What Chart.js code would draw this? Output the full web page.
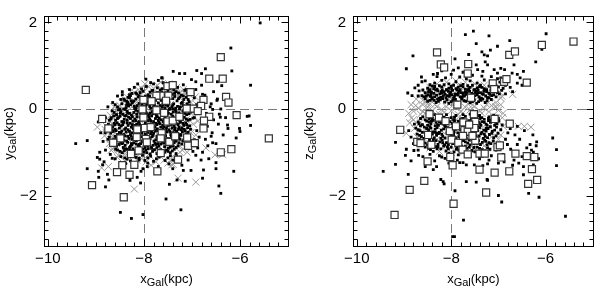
<!DOCTYPE html>
<html><head><meta charset="utf-8">
<script src="https://cdn.jsdelivr.net/npm/chart.js@4.4.0/dist/chart.umd.min.js"></script>
<style>
html,body{margin:0;padding:0;background:#fff;width:600px;height:288px;overflow:hidden}
canvas{position:absolute;top:0}
#c1{left:0}
#c2{left:300px}
</style></head><body>
<canvas id="c1" width="300" height="288"></canvas>
<canvas id="c2" width="300" height="288"></canvas>
<script>
const xTicks = [-10, -8, -6];
const yTicks = [-2, 0, 2];
const xRange = [-10.08, -4.98];
const yRange = [-3.19, 2.15];
const refX = -8, refY = 0;

// LEFT PANEL (x vs y)
const leftSquares = [[-9.21,0.44],[-6.40,1.20],[-6.64,0.70],[-6.36,0.70],[-6.29,0.28],[-6.24,0.15],[-6.07,-0.14],[-5.40,-0.68],[-8.87,-0.23],[-8.74,-0.45],[-7.51,0.53],[-7.40,0.55],[-7.03,0.39],[-6.76,0.21],[-6.81,0.07],[-6.64,-0.18],[-6.75,-0.27],[-6.76,-0.45],[-6.98,0.01],[-7.11,0.01],[-6.88,-0.05],[-7.65,0.31],[-7.74,0.31],[-7.84,0.18],[-7.49,0.31],[-7.54,0.19],[-8.01,0.21],[-8.03,-0.01],[-7.74,-0.03],[-7.58,-0.09],[-8.01,-0.20],[-7.51,-0.29],[-7.40,-0.27],[-7.26,-0.18],[-8.14,-0.47],[-7.98,-0.44],[-7.86,-0.42],[-7.63,-0.56],[-7.65,-0.68],[-7.46,-0.74],[-7.96,-0.69],[-7.94,-0.77],[-8.15,-0.65],[-8.49,-0.68],[-8.64,-0.78],[-7.10,-0.66],[-7.08,-0.85],[-6.94,-0.79],[-8.27,-1.04],[-8.11,-0.96],[-7.65,-1.02],[-7.29,-1.17],[-8.45,-1.30],[-8.20,-1.29],[-8.56,-1.46],[-8.30,-1.52],[-7.72,-1.44],[-6.40,-1.00],[-6.18,-0.93],[-9.08,-1.76],[-8.42,-2.04],[-7.47,-0.76],[-7.35,-0.63]];

const leftCrosses = [[-8.97,-0.42],[-8.81,-0.47],[-8.88,-1.36],[-8.74,-1.33],[-8.20,-1.85],[-6.92,-1.69],[-6.52,-1.06],[-6.36,-1.05],[-6.71,-0.90],[-7.39,-1.28],[-7.29,-1.60],[-8.64,-0.67],[-8.65,-0.93],[-8.53,-1.07],[-7.42,-1.29],[-6.93,0.28],[-7.16,0.37],[-8.31,0.18],[-7.33,0.43],
[-8.70,-0.30],[-8.62,-0.15],[-8.55,0.00],[-8.45,0.15],[-8.35,0.28],[-8.20,0.38],[-8.05,0.48],[-7.90,0.52],[-7.72,0.55],[-7.55,0.50],[-7.40,0.45],[-7.25,0.38],[-7.12,0.28],[-7.02,0.15],[-6.98,0.00],[-6.95,-0.18],[-6.97,-0.35],[-7.02,-0.55],[-7.08,-0.72],[-7.15,-0.88],[-7.25,-1.00],[-7.40,-1.10],[-7.58,-1.18],[-7.75,-1.22],[-7.95,-1.22],[-8.15,-1.18],[-8.32,-1.10],[-8.48,-0.98],[-8.60,-0.85],[-8.70,-0.70],[-8.76,-0.55],
[-8.50,-0.40],[-8.38,-0.20],[-8.25,0.05],[-8.10,0.25],[-7.85,0.35],[-7.60,0.28],[-7.45,0.10],[-7.30,-0.10],[-7.22,-0.40],[-7.30,-0.65],[-7.50,-0.85],[-7.80,-0.95],[-8.05,-0.90],[-8.28,-0.75],[-8.45,-0.60],[-8.15,-0.45],[-7.95,-0.20],[-7.70,-0.05],[-7.55,-0.35],[-7.70,-0.60],[-7.98,-0.65],[-8.20,-0.15],[-7.40,-0.50],[-7.65,0.10],[-8.00,0.10],[-8.35,-0.95],
[-8.82,-0.62],[-8.66,-0.45],[-8.58,-0.25],[-8.50,0.08],[-8.40,0.22],[-8.28,0.40],[-8.12,0.45],[-7.98,0.58],[-7.65,0.62],[-7.48,0.58],[-7.32,0.50],[-7.18,0.45],[-7.05,0.33],[-6.90,0.10],[-6.88,-0.28],[-6.92,-0.60],[-7.00,-0.80],[-7.10,-1.00],[-7.32,-1.15],[-7.50,-1.25],[-7.85,-1.30],[-8.05,-1.15],[-8.40,-1.20],[-8.55,-1.12],[-8.68,-0.95],[-8.72,-0.80],
[-8.60,-0.55],[-8.40,-0.10],[-8.30,-0.50],[-8.10,-0.70],[-8.00,-0.35],[-7.88,-0.05],[-7.75,0.20],[-7.45,-0.20],[-7.35,-0.75],[-7.60,-0.95],[-7.90,-1.05],[-8.20,-1.00],[-8.45,-0.80],[-8.58,-0.05],[-8.35,0.10],[-8.15,0.15],[-7.50,0.35],[-7.20,0.20],[-7.12,-0.25],[-7.15,-0.50],[-7.85,-0.50],[-8.20,-0.30],[-7.60,-0.70],[-7.25,-0.85],[-8.65,-0.35],[-8.52,-0.70],[-8.78,-0.40],[-8.70,-0.15],[-8.62,0.05],[-8.00,0.40],[-7.80,0.48],[-7.30,0.30],[-7.00,-0.05],[-7.05,-0.40],[-7.20,-0.95],[-8.40,-1.05]];

const leftDotsOuter = [[-5.58,1.99],[-6.19,1.41],[-6.17,0.88],[-5.78,0.55],[-6.90,0.89],[-6.80,0.82],[-6.72,0.93],[-7.39,0.87],[-7.26,0.82],[-7.15,0.82],[-7.96,0.69],[-8.13,0.58],[-7.62,0.72],[-6.40,0.67],[-6.47,0.63],[-6.38,0.54],[-7.01,0.68],[-6.92,0.63],[-5.81,-0.16],[-5.78,-0.38],[-6.01,-0.45],[-5.85,-0.17],[-6.26,-0.37],[-9.42,-0.80],[-9.18,-0.73],[-8.36,0.18],[-8.17,0.37],[-8.42,0.23],[-8.33,0.27],[-7.82,0.43],[-7.72,0.49],[-7.63,0.72],[-7.60,0.61],[-7.86,0.61],[-8.69,-0.23],[-8.57,-0.14],[-6.78,0.34],[-6.73,0.32],[-6.47,0.23],[-6.57,-0.01],[-6.43,-0.12],[-6.41,-0.19],[-9.18,-1.38],[-8.97,-1.12],[-8.92,-1.16],[-8.83,-1.22],[-8.86,-1.29],[-8.95,-1.44],[-8.94,-1.58],[-8.76,-1.51],[-8.73,-1.64],[-8.80,-1.80],[-8.49,-2.39],[-8.26,-2.53],[-8.02,-2.44],[-8.07,-1.71],[-7.54,-2.08],[-7.23,-2.33],[-6.44,-1.78],[-6.40,-1.95],[-6.50,-1.24],[-6.50,-1.38],[-6.13,-1.44],[-6.78,-1.60],[-6.76,-1.41],[-6.81,-1.18],[-7.02,-1.42],[-7.18,-1.42],[-7.40,-1.38],[-7.14,-1.67],[-7.31,-1.64],[-7.47,-1.74],[-6.92,-1.07],[-7.08,-1.18],[-7.21,-1.30],[-6.65,-1.15],[-6.67,-0.85],[-6.57,-0.78],[-6.88,-0.90],[-6.95,-0.71],[-6.71,-0.50],[-6.60,-0.63],[-6.08,-0.67],[-6.00,-0.52],[-7.93,-1.33],[-8.06,-1.44],[-8.10,-1.18],[-8.14,-1.58],[-8.29,-1.65],[-8.66,-1.14],[-8.59,-0.93],
[-6.90,0.10],[-6.85,-0.05],[-6.95,-0.20],[-6.70,-0.10],[-6.62,0.05],[-6.55,-0.25],[-6.80,-0.35],[-6.68,-0.40],[-6.90,-0.50],[-6.58,-0.55],[-6.45,-0.35],[-6.35,-0.60],[-6.85,-0.65],[-6.72,-0.70],[-6.95,-0.85],[-6.50,-0.80],[-6.30,-0.20],[-6.40,0.00],[-6.25,-0.45],[-6.98,-0.98],[-6.78,-1.00],[-6.60,0.12],[-6.48,0.20],[-6.92,0.45],[-6.80,0.55],[-6.55,0.40],
[-8.95,-0.30],[-8.90,-0.55],[-8.85,-0.75],[-8.80,-0.95],[-8.92,-1.00],[-8.70,-1.05],[-8.60,-1.15],[-8.75,0.05],[-8.65,0.15],[-8.55,0.30],[-8.45,0.40],[-8.30,0.45],[-8.80,-0.20]];

const leftDotsCore = [[-7.95,0.52],[-7.80,0.58],[-7.62,0.47],[-7.45,0.61],[-7.30,0.50],[-7.18,0.56],[-8.05,0.46],[-7.70,0.66],[-7.55,0.55],[-7.12,0.45],[-8.20,0.50],[-7.38,0.44],
[-8.15,0.35],[-8.02,0.41],[-7.91,0.33],[-7.83,0.43],[-7.72,0.38],[-7.60,0.31],[-7.50,0.42],[-7.41,0.34],[-7.33,0.40],[-7.22,0.32],[-7.10,0.37],[-8.28,0.31],[-7.97,0.30],[-7.66,0.44],[-7.45,0.30],[-7.15,0.43],[-6.98,0.35],[-8.08,0.38],[-7.78,0.34],[-7.55,0.37],
[-8.40,0.20],[-8.30,0.26],[-8.21,0.18],[-8.12,0.28],[-8.05,0.16],[-7.96,0.23],[-7.88,0.29],[-7.80,0.17],[-7.73,0.25],[-7.64,0.20],[-7.57,0.27],[-7.48,0.16],[-7.40,0.24],[-7.31,0.19],[-7.25,0.28],[-7.17,0.22],[-7.06,0.17],[-6.95,0.26],[-8.34,0.15],[-7.92,0.16],[-7.69,0.29],[-7.52,0.21],[-7.36,0.29],[-7.12,0.27],[-8.17,0.23],[-7.85,0.22],[-7.60,0.15],[-7.20,0.15],
[-8.55,0.05],[-8.46,0.12],[-8.37,0.03],[-8.28,0.10],[-8.19,0.01],[-8.10,0.13],[-8.02,0.06],[-7.94,0.11],[-7.86,0.02],[-7.78,0.09],[-7.70,0.14],[-7.62,0.04],[-7.54,0.10],[-7.46,0.01],[-7.38,0.12],[-7.30,0.06],[-7.22,0.13],[-7.14,0.03],[-7.05,0.09],[-8.42,0.00],[-8.24,0.14],[-8.06,0.00],[-7.90,0.14],[-7.74,0.00],[-7.58,0.13],[-7.42,0.05],[-7.26,0.00],[-7.10,0.12],[-8.32,0.07],[-7.98,0.03],[-7.66,0.08],[-7.34,0.02],[-8.14,0.08],[-7.82,0.12],[-7.50,0.07],[-7.18,0.08],
[-8.62,-0.08],[-8.53,-0.02],[-8.44,-0.12],[-8.35,-0.05],[-8.26,-0.14],[-8.17,-0.03],[-8.08,-0.10],[-7.99,-0.01],[-7.91,-0.13],[-7.83,-0.06],[-7.75,-0.11],[-7.67,-0.03],[-7.59,-0.14],[-7.51,-0.06],[-7.43,-0.12],[-7.35,-0.02],[-7.27,-0.09],[-7.19,-0.04],[-7.11,-0.13],[-7.02,-0.07],[-8.48,-0.06],[-8.30,-0.10],[-8.12,-0.05],[-7.95,-0.09],[-7.79,-0.02],[-7.63,-0.09],[-7.47,-0.01],[-7.31,-0.13],[-7.15,-0.10],[-8.39,-0.01],[-8.21,-0.08],[-8.03,-0.14],[-7.87,-0.10],[-7.71,-0.06],[-7.55,-0.10],[-7.39,-0.07],[-7.23,-0.12],[-8.57,-0.13],
[-8.68,-0.20],[-8.59,-0.26],[-8.50,-0.17],[-8.41,-0.24],[-8.32,-0.19],[-8.23,-0.28],[-8.14,-0.18],[-8.05,-0.25],[-7.96,-0.16],[-7.88,-0.23],[-7.80,-0.29],[-7.72,-0.18],[-7.64,-0.25],[-7.56,-0.20],[-7.48,-0.27],[-7.40,-0.17],[-7.32,-0.23],[-7.24,-0.29],[-7.16,-0.19],[-7.08,-0.26],[-6.98,-0.21],[-8.46,-0.29],[-8.28,-0.22],[-8.10,-0.29],[-7.92,-0.27],[-7.76,-0.22],[-7.60,-0.29],[-7.44,-0.22],[-7.28,-0.17],[-7.12,-0.23],[-8.37,-0.15],[-8.19,-0.23],[-8.00,-0.20],[-7.84,-0.16],[-7.68,-0.21],[-7.52,-0.15],[-7.36,-0.28],[-7.20,-0.24],[-8.63,-0.16],[-8.55,-0.22],
[-8.74,-0.35],[-8.65,-0.41],[-8.56,-0.32],[-8.47,-0.39],[-8.38,-0.44],[-8.29,-0.33],[-8.20,-0.40],[-8.11,-0.31],[-8.02,-0.38],[-7.93,-0.43],[-7.85,-0.34],[-7.77,-0.41],[-7.69,-0.31],[-7.61,-0.37],[-7.53,-0.43],[-7.45,-0.33],[-7.37,-0.40],[-7.29,-0.36],[-7.21,-0.44],[-7.13,-0.32],[-7.05,-0.39],[-8.60,-0.36],[-8.42,-0.31],[-8.24,-0.36],[-8.06,-0.44],[-7.89,-0.39],[-7.73,-0.36],[-7.57,-0.31],[-7.41,-0.44],[-7.25,-0.31],[-7.09,-0.43],[-8.51,-0.44],[-8.33,-0.38],[-8.15,-0.35],[-7.97,-0.32],[-7.81,-0.44],[-7.65,-0.42],[-7.49,-0.38],[-7.33,-0.33],[-7.17,-0.38],[-8.70,-0.43],
[-8.78,-0.50],[-8.69,-0.56],[-8.60,-0.47],[-8.51,-0.54],[-8.42,-0.59],[-8.33,-0.48],[-8.24,-0.55],[-8.15,-0.46],[-8.06,-0.53],[-7.97,-0.58],[-7.88,-0.49],[-7.80,-0.56],[-7.72,-0.46],[-7.64,-0.52],[-7.56,-0.58],[-7.48,-0.48],[-7.40,-0.55],[-7.32,-0.51],[-7.24,-0.59],[-7.16,-0.47],[-7.08,-0.54],[-8.64,-0.52],[-8.46,-0.51],[-8.28,-0.59],[-8.10,-0.50],[-7.92,-0.54],[-7.76,-0.51],[-7.60,-0.47],[-7.44,-0.59],[-7.28,-0.47],[-7.12,-0.58],[-8.55,-0.59],[-8.37,-0.53],[-8.19,-0.57],[-8.01,-0.47],[-7.84,-0.52],[-7.68,-0.57],[-7.52,-0.53],[-7.36,-0.49],[-7.20,-0.53],
[-8.72,-0.65],[-8.63,-0.71],[-8.54,-0.62],[-8.45,-0.69],[-8.36,-0.74],[-8.27,-0.63],[-8.18,-0.70],[-8.09,-0.61],[-8.00,-0.68],[-7.91,-0.73],[-7.83,-0.64],[-7.75,-0.71],[-7.67,-0.61],[-7.59,-0.67],[-7.51,-0.73],[-7.43,-0.63],[-7.35,-0.70],[-7.27,-0.66],[-7.19,-0.74],[-7.11,-0.62],[-8.58,-0.67],[-8.40,-0.62],[-8.22,-0.66],[-8.04,-0.74],[-7.87,-0.69],[-7.71,-0.66],[-7.55,-0.62],[-7.39,-0.74],[-7.23,-0.61],[-8.49,-0.74],[-8.31,-0.68],[-8.13,-0.65],[-7.95,-0.62],[-7.79,-0.74],[-7.63,-0.72],[-7.47,-0.68],[-7.31,-0.63],
[-8.66,-0.80],[-8.57,-0.86],[-8.48,-0.77],[-8.39,-0.84],[-8.30,-0.89],[-8.21,-0.78],[-8.12,-0.85],[-8.03,-0.76],[-7.94,-0.83],[-7.85,-0.88],[-7.77,-0.79],[-7.69,-0.86],[-7.61,-0.76],[-7.53,-0.82],[-7.45,-0.88],[-7.37,-0.78],[-7.29,-0.85],[-7.21,-0.81],[-8.52,-0.82],[-8.34,-0.77],[-8.16,-0.81],[-7.98,-0.89],[-7.81,-0.84],[-7.65,-0.81],[-7.49,-0.77],[-7.33,-0.89],[-8.43,-0.89],[-8.25,-0.83],[-8.07,-0.80],[-7.89,-0.77],[-7.73,-0.89],[-7.57,-0.87],
[-8.55,-0.95],[-8.45,-1.01],[-8.36,-0.93],[-8.27,-0.99],[-8.18,-1.04],[-8.09,-0.94],[-8.00,-1.00],[-7.91,-0.92],[-7.82,-0.98],[-7.73,-1.03],[-7.65,-0.94],[-7.57,-1.00],[-7.49,-0.91],[-7.41,-0.97],[-7.33,-1.03],[-8.41,-0.96],[-8.23,-0.92],[-8.05,-0.97],[-7.87,-1.04],[-7.69,-0.99],[-7.53,-0.95],[-7.37,-0.93],[-8.32,-1.02],[-7.96,-0.95],[-7.61,-1.04],
[-8.48,-1.10],[-8.35,-1.16],[-8.22,-1.08],[-8.10,-1.14],[-7.98,-1.19],[-7.86,-1.09],[-7.74,-1.15],[-7.62,-1.07],[-7.50,-1.13],[-7.40,-1.18],[-8.28,-1.20],[-8.03,-1.07],[-7.80,-1.21],[-7.56,-1.19],[-7.32,-1.10],
[-8.38,-1.26],[-8.15,-1.31],[-7.92,-1.25],[-7.70,-1.33],[-7.48,-1.27],[-8.02,-1.38],
[-8.45,0.33],[-8.25,0.36],[-7.87,0.39],[-7.63,0.39],[-7.36,0.36],[-7.18,0.30],
[-8.48,0.22],[-8.26,0.19],[-8.00,0.26],[-7.76,0.20],[-7.53,0.25],[-7.28,0.24],[-7.08,0.22],
[-8.60,0.10],[-8.50,-0.00],[-8.33,0.12],[-8.16,0.03],[-7.96,0.07],[-7.80,0.05],[-7.60,0.10],[-7.40,0.09],[-7.24,0.05],[-7.08,0.04],
[-8.66,-0.04],[-8.49,-0.10],[-8.34,-0.09],[-8.15,-0.12],[-7.97,-0.05],[-7.81,-0.11],[-7.65,-0.05],[-7.49,-0.10],[-7.33,-0.06],[-7.17,-0.07],[-7.06,-0.11],
[-8.72,-0.26],[-8.53,-0.20],[-8.35,-0.26],[-8.17,-0.27],[-8.02,-0.23],[-7.86,-0.27],[-7.70,-0.26],[-7.54,-0.24],[-7.38,-0.21],[-7.22,-0.20],[-7.04,-0.24],
[-8.77,-0.40],[-8.62,-0.33],[-8.44,-0.36],[-8.26,-0.42],[-8.09,-0.36],[-7.91,-0.35],[-7.75,-0.33],[-7.59,-0.41],[-7.43,-0.37],[-7.27,-0.42],[-7.11,-0.36],
[-8.81,-0.55],[-8.66,-0.48],[-8.48,-0.56],[-8.30,-0.52],[-8.12,-0.55],[-7.95,-0.50],[-7.78,-0.48],[-7.62,-0.55],[-7.46,-0.52],[-7.30,-0.56],[-7.14,-0.51],[-7.03,-0.47],
[-8.75,-0.70],[-8.60,-0.63],[-8.42,-0.72],[-8.25,-0.70],[-8.07,-0.64],[-7.89,-0.66],[-7.73,-0.63],[-7.57,-0.70],[-7.41,-0.67],[-7.25,-0.70],[-7.15,-0.66],
[-8.62,-0.84],[-8.46,-0.80],[-8.28,-0.86],[-8.10,-0.82],[-7.92,-0.86],[-7.75,-0.82],[-7.59,-0.79],[-7.43,-0.84],[-7.27,-0.78],
[-8.50,-0.98],[-8.30,-0.95],[-8.13,-1.00],[-7.94,-1.01],[-7.78,-0.94],[-7.60,-0.97],[-7.45,-1.01],
[-8.40,-1.13],[-8.16,-1.12],[-7.92,-1.13],[-7.68,-1.11],[-7.45,-1.08],
[-8.36,0.09],[-8.20,0.06],[-8.04,0.10],[-7.88,0.06],[-7.72,0.05],[-7.56,0.03],[-7.40,0.00],
[-8.40,-0.16],[-8.24,-0.18],[-8.07,-0.19],[-7.90,-0.18],[-7.74,-0.15],[-7.58,-0.24],[-7.42,-0.27],[-7.26,-0.25],
[-8.52,-0.36],[-8.35,-0.32],[-8.18,-0.38],[-8.00,-0.41],[-7.83,-0.38],[-7.67,-0.34],[-7.51,-0.34],[-7.35,-0.44],[-7.19,-0.33],
[-8.58,-0.50],[-8.40,-0.47],[-8.22,-0.46],[-8.04,-0.56],[-7.86,-0.57],[-7.70,-0.50],[-7.54,-0.49],[-7.38,-0.57],[-7.22,-0.48],
[-8.52,-0.66],[-8.34,-0.63],[-8.16,-0.73],[-7.98,-0.71],[-7.81,-0.61],[-7.65,-0.65],[-7.49,-0.71],[-7.33,-0.74],[-7.17,-0.71],
[-8.44,-0.78],[-8.26,-0.80],[-8.09,-0.88],[-7.91,-0.81],[-7.71,-0.80],[-7.55,-0.75],[-7.39,-0.86],
[-8.38,-0.92],[-8.20,-0.96],[-8.02,-0.93],[-7.84,-0.91],[-7.67,-1.00],[-7.50,-0.98],
[-8.30,0.33],[-8.10,0.31],[-7.93,0.27],[-7.70,0.32],[-7.47,0.35],[-7.28,0.37]];

// RIGHT PANEL (x vs z)
const rightSquares = [[-8.30,1.31],[-8.22,1.03],[-8.15,0.96],[-7.64,1.04],[-7.65,0.82],[-6.77,1.25],[-6.65,1.33],[-6.08,1.48],[-5.41,1.56],[-7.12,0.59],[-7.09,0.46],[-6.88,0.63],[-6.83,0.69],[-6.40,0.61],[-7.58,0.26],[-7.87,0.10],[-8.46,-0.12],[-8.26,-0.20],[-8.12,-0.28],[-7.74,-0.31],[-7.52,-0.12],[-7.49,-0.30],[-7.08,-0.23],[-6.76,-0.34],[-9.08,-0.48],[-8.72,-0.76],[-8.65,-0.79],[-8.42,-0.83],[-8.49,-0.60],[-8.50,-1.21],[-8.57,-1.66],[-8.88,-1.87],[-9.20,-2.45],[-8.02,-1.11],[-7.97,-1.30],[-7.95,-2.19],[-8.03,-0.51],[-7.99,-0.71],[-7.85,-0.78],[-7.76,-0.94],[-7.72,-0.49],[-7.65,-0.52],[-7.51,-0.44],[-7.49,-0.73],[-7.65,-1.05],[-7.40,-1.03],[-7.29,-1.03],[-7.40,-1.40],[-7.08,-1.47],[-7.26,-1.93],[-7.02,-0.88],[-6.97,-0.84],[-6.94,-1.12],[-6.77,-1.44],[-6.64,-1.03],[-6.40,-1.09],[-6.24,-1.11],[-6.29,-1.39],[-6.37,-1.73],[-6.18,-1.64],[-7.75,-0.62],[-7.55,-0.62],[-7.90,-0.40],[-7.62,-0.36]];

const rightCrosses = [[-8.80,-0.05],[-8.70,0.02],[-8.60,-0.06],[-8.50,0.04],[-8.40,-0.03],[-8.30,0.06],[-8.20,-0.01],[-8.10,0.05],[-8.00,-0.04],[-7.90,0.03],[-7.80,-0.05],[-7.70,0.04],[-7.60,-0.02],[-7.50,0.06],[-7.40,-0.04],[-7.30,0.02],[-7.20,-0.06],[-7.10,0.03],[-7.00,-0.03],[-8.75,0.08],[-8.55,-0.10],[-8.35,0.10],[-8.15,-0.08],[-7.95,0.10],[-7.75,-0.09],[-7.55,0.09],[-7.35,-0.10],[-7.15,0.08],[-8.65,-0.12],[-8.45,0.12],[-8.25,-0.12],[-8.05,0.12],[-7.85,-0.13],[-7.65,0.12],[-7.45,-0.12],[-7.25,0.11],
[-8.60,0.20],[-8.55,0.35],[-8.45,0.50],[-8.30,0.58],[-8.10,0.62],[-7.90,0.65],[-7.70,0.62],[-7.50,0.58],[-7.30,0.55],[-7.10,0.50],[-6.98,0.40],[-6.95,0.25],[-7.05,0.15],[-8.48,0.30],[-8.20,0.45],[-7.80,0.40],[-7.40,0.30],[-7.20,0.40],[-8.00,0.30],
[-8.80,-0.25],[-8.78,-0.45],[-8.72,-0.65],[-8.60,-0.80],[-8.45,-0.90],[-8.25,-0.98],[-8.00,-1.00],[-7.75,-1.00],[-7.50,-0.95],[-7.25,-0.90],[-7.05,-0.80],[-6.95,-0.60],[-6.90,-0.40],[-6.92,-0.20],[-8.55,-0.45],[-8.30,-0.70],[-8.05,-0.40],[-7.80,-0.60],[-7.55,-0.80],[-7.35,-0.45],[-7.15,-0.65],[-8.40,-0.30],[-7.90,-0.85],
[-8.74,0.23],[-8.55,0.18],[-6.93,0.30],[-6.70,0.34],[-8.84,-0.21],[-8.88,-0.32],[-8.95,-0.56],[-6.31,-0.42],[-6.58,-0.40],[-6.45,-0.40],
[-8.35,0.35],[-8.05,0.20],[-7.75,0.25],[-7.50,0.45],[-7.20,0.25],[-7.00,0.50],[-8.50,0.12],[-7.85,0.55],[-8.20,0.25],[-7.60,0.35],
[-8.65,-0.30],[-8.50,-0.60],[-8.20,-0.50],[-8.10,-0.85],[-7.95,-0.60],[-7.70,-0.45],[-7.60,-0.90],[-7.40,-0.65],[-7.20,-0.40],[-7.10,-0.20],[-8.30,-0.20],[-7.90,-0.25],[-7.45,-0.25],[-8.70,-0.50],[-8.40,-0.80],[-7.80,-0.80],[-7.30,-0.85],[-7.00,-0.70],[-8.60,0.10],[-7.05,0.05],[-8.85,0.10],[-8.90,-0.10],[-6.95,0.10],[-6.90,-0.10]];

const rightDotsOuter = [[-7.53,1.80],[-7.70,1.72],[-7.20,1.69],[-7.47,1.51],[-6.76,1.58],[-5.99,1.74],[-6.08,1.38],[-6.21,1.09],[-7.02,1.45],[-7.17,1.36],[-7.35,1.32],[-7.30,1.25],[-7.23,1.23],[-7.63,1.26],[-7.92,1.16],[-8.81,1.23],[-8.95,0.93],[-8.63,0.74],[-8.62,0.63],[-8.38,0.80],[-8.29,0.82],[-8.77,0.49],[-8.92,0.37],[-8.83,0.31],[-7.47,1.02],[-7.44,0.91],[-7.33,0.87],[-7.28,1.09],[-7.23,1.02],[-7.09,0.91],[-7.02,0.83],[-6.95,0.94],[-6.87,0.91],[-6.67,1.02],[-6.71,0.83],[-6.60,0.80],[-6.54,0.72],[-6.47,0.87],
[-9.44,-1.44],[-9.18,-1.28],[-9.18,-0.77],[-8.91,-1.51],[-8.97,-1.07],[-8.95,-0.93],[-8.79,-0.96],[-8.69,-1.07],[-8.55,-1.33],[-8.38,-1.40],[-8.31,-1.33],[-8.22,-1.63],[-8.17,-1.68],[-8.15,-1.73],[-7.92,-1.89],[-7.74,-2.57],[-7.68,-1.68],[-7.47,-1.69],[-7.24,-1.63],[-7.23,-1.65],[-7.00,-2.00],[-6.93,-2.15],[-6.47,-1.52],[-6.36,-1.95],[-6.14,-2.04],[-6.47,-1.33],[-6.26,-1.29],[-5.85,-0.67],[-5.77,-0.94],[-5.77,-1.31],[-5.58,-2.48],[-6.19,-0.76],[-6.27,-0.60],[-6.33,-0.82],[-6.26,-1.00],[-6.60,-0.82],[-6.74,-0.93],[-6.81,-0.82],[-6.88,-1.22],[-6.57,-1.25],[-6.67,-1.18],[-8.20,-1.11],[-8.13,-1.14],[-7.87,-1.18],[-7.82,-1.24],[-7.75,-1.24],[-7.68,-1.29],[-7.51,-1.29],[-7.33,-1.31],[-7.23,-1.27],[-7.20,-1.18],[-7.97,-2.95],[-7.93,-2.95],
[-8.70,0.55],[-8.55,0.65],[-8.30,0.75],[-8.00,0.80],[-7.75,0.85],[-7.55,0.78],[-7.35,0.76],[-7.15,0.75],[-6.95,0.72],[-6.80,0.65],[-6.75,0.50],[-6.70,0.40],[-6.85,0.35],[-8.70,0.30],[-8.68,0.42],[-8.20,0.88],[-7.85,0.95],[-7.95,0.90],[-6.60,0.60],[-6.50,0.55],
[-8.45,-1.05],[-8.25,-1.08],[-8.05,-1.02],[-7.85,-1.06],[-7.60,-1.10],[-7.40,-1.15],[-7.15,-1.08],[-7.05,-0.95],[-6.95,-0.90],[-6.85,-0.70],[-6.80,-0.55],[-6.75,-0.45],[-6.65,-0.60],[-6.55,-0.70],[-6.45,-0.50],[-6.40,-0.90],[-6.50,-1.10],[-8.80,-0.80],[-8.85,-0.65],[-8.90,-0.50],[-8.78,-0.35],[-8.85,-1.20],[-8.60,-1.10],[-8.70,-0.95],[-8.35,-1.20],[-8.05,-1.25],[-6.70,-1.30],[-7.00,-1.25],[-6.90,-1.05],[-6.60,-0.40],[-6.30,-0.95],[-6.20,-0.85],[-6.15,-1.15]];

const rightDotsUpperLobe = [[-8.35,0.60],[-8.20,0.66],[-8.05,0.58],[-7.90,0.63],[-7.75,0.57],[-7.60,0.65],[-7.45,0.60],[-7.30,0.67],[-7.15,0.62],[-7.02,0.70],[-6.92,0.58],[-8.45,0.56],[-7.68,0.70],[-7.38,0.55],[-7.08,0.56],[-8.12,0.72],[-7.82,0.74],
[-8.50,0.48],[-8.40,0.53],[-8.30,0.46],[-8.20,0.51],[-8.10,0.45],[-8.00,0.52],[-7.90,0.47],[-7.80,0.54],[-7.70,0.46],[-7.60,0.50],[-7.50,0.45],[-7.40,0.52],[-7.30,0.47],[-7.20,0.53],[-7.10,0.46],[-7.00,0.51],[-6.90,0.48],[-8.45,0.45],[-8.25,0.54],[-8.05,0.48],[-7.85,0.50],[-7.65,0.54],[-7.45,0.49],[-7.25,0.45],[-7.05,0.54],[-6.85,0.55],
[-8.55,0.38],[-8.46,0.43],[-8.37,0.36],[-8.28,0.42],[-8.19,0.37],[-8.10,0.44],[-8.01,0.39],[-7.92,0.35],[-7.83,0.42],[-7.74,0.37],[-7.65,0.44],[-7.56,0.36],[-7.47,0.41],[-7.38,0.38],[-7.29,0.44],[-7.20,0.36],[-7.11,0.41],[-7.02,0.38],[-6.93,0.43],[-8.42,0.39],[-8.24,0.35],[-8.06,0.41],[-7.88,0.44],[-7.70,0.40],[-7.52,0.44],[-7.34,0.35],[-7.16,0.44],[-6.98,0.35],[-8.60,0.44],
[-8.58,0.28],[-8.49,0.33],[-8.40,0.26],[-8.31,0.32],[-8.22,0.27],[-8.13,0.34],[-8.04,0.29],[-7.95,0.25],[-7.86,0.32],[-7.77,0.27],[-7.68,0.34],[-7.59,0.26],[-7.50,0.31],[-7.41,0.28],[-7.32,0.34],[-7.23,0.26],[-7.14,0.31],[-7.05,0.28],[-8.44,0.29],[-8.26,0.25],[-8.08,0.31],[-7.90,0.34],[-7.72,0.30],[-7.54,0.34],[-7.36,0.25],[-7.18,0.34],[-8.62,0.31],
[-8.50,0.18],[-8.41,0.23],[-8.32,0.15],[-8.23,0.21],[-8.14,0.16],[-8.05,0.13],[-7.96,0.20],[-7.87,0.16],[-7.78,0.23],[-7.69,0.18],[-7.60,0.14],[-7.51,0.21],[-7.42,0.17],[-7.33,0.23],[-7.24,0.19],[-7.15,0.22],[-8.36,0.20],[-8.18,0.24],[-8.00,0.17],[-7.82,0.13],[-7.64,0.22],[-7.46,0.13],[-7.28,0.15],[-8.55,0.24],
[-8.48,0.40],[-8.33,0.44],[-8.15,0.40],[-7.97,0.43],[-7.79,0.38],[-7.61,0.41],[-7.43,0.44],[-7.25,0.40],[-7.07,0.44],
[-8.53,0.30],[-8.35,0.28],[-8.17,0.30],[-7.99,0.33],[-7.81,0.28],[-7.63,0.30],[-7.45,0.33],[-7.27,0.30],[-7.10,0.33],
[-8.45,0.20],[-8.27,0.18],[-8.09,0.21],[-7.91,0.22],[-7.73,0.19],[-7.55,0.17],[-7.37,0.20],[-7.20,0.26],
[-8.35,0.52],[-8.15,0.56],[-7.95,0.55],[-7.75,0.51],[-7.55,0.55],[-7.35,0.50],[-7.15,0.56],[-6.97,0.62],
[-8.43,0.34],[-8.21,0.40],[-8.03,0.35],[-7.85,0.37],[-7.67,0.38],[-7.49,0.38],[-7.31,0.41],[-8.29,0.23],[-8.11,0.26],[-7.93,0.29],[-7.75,0.33],[-7.57,0.30],[-7.39,0.24],[-8.37,0.47],[-8.19,0.44],[-7.99,0.46],[-7.81,0.45],[-7.63,0.47],[-7.43,0.38]];

const rightDotsLowerLobe = [[-8.60,-0.18],[-8.50,-0.14],[-8.40,-0.22],[-8.30,-0.16],[-8.20,-0.24],[-8.10,-0.13],[-8.00,-0.20],[-7.90,-0.15],[-7.80,-0.23],[-7.70,-0.17],[-7.60,-0.12],[-7.50,-0.21],[-7.40,-0.15],[-7.30,-0.24],[-7.20,-0.18],[-7.10,-0.14],[-7.00,-0.22],[-8.55,-0.25],[-8.35,-0.13],[-8.15,-0.19],[-7.95,-0.25],[-7.75,-0.13],[-7.55,-0.18],[-7.35,-0.20],[-7.15,-0.25],[-8.45,-0.19],
[-8.70,-0.30],[-8.61,-0.36],[-8.52,-0.28],[-8.43,-0.34],[-8.34,-0.39],[-8.25,-0.29],[-8.16,-0.35],[-8.07,-0.27],[-7.98,-0.33],[-7.89,-0.38],[-7.80,-0.30],[-7.71,-0.36],[-7.62,-0.27],[-7.53,-0.33],[-7.44,-0.39],[-7.35,-0.29],[-7.26,-0.35],[-7.17,-0.31],[-7.08,-0.38],[-6.99,-0.28],[-8.65,-0.39],[-8.47,-0.30],[-8.29,-0.36],[-8.11,-0.31],[-7.93,-0.27],[-7.75,-0.39],[-7.57,-0.30],[-7.39,-0.35],[-7.21,-0.27],[-7.03,-0.34],[-6.92,-0.37],[-8.38,-0.26],[-7.84,-0.35],
[-8.75,-0.44],[-8.66,-0.50],[-8.57,-0.42],[-8.48,-0.48],[-8.39,-0.53],[-8.30,-0.43],[-8.21,-0.49],[-8.12,-0.41],[-8.03,-0.47],[-7.94,-0.52],[-7.85,-0.44],[-7.76,-0.50],[-7.67,-0.41],[-7.58,-0.47],[-7.49,-0.53],[-7.40,-0.43],[-7.31,-0.49],[-7.22,-0.45],[-7.13,-0.52],[-7.04,-0.42],[-6.95,-0.48],[-8.61,-0.54],[-8.43,-0.44],[-8.25,-0.54],[-8.07,-0.51],[-7.89,-0.41],[-7.71,-0.54],[-7.53,-0.44],[-7.35,-0.54],[-7.17,-0.41],[-8.34,-0.47],[-7.98,-0.45],[-7.62,-0.51],[-7.26,-0.51],
[-8.72,-0.58],[-8.63,-0.64],[-8.54,-0.56],[-8.45,-0.62],[-8.36,-0.67],[-8.27,-0.57],[-8.18,-0.63],[-8.09,-0.55],[-8.00,-0.61],[-7.91,-0.66],[-7.82,-0.58],[-7.73,-0.64],[-7.64,-0.55],[-7.55,-0.61],[-7.46,-0.67],[-7.37,-0.57],[-7.28,-0.63],[-7.19,-0.59],[-7.10,-0.66],[-7.01,-0.56],[-8.58,-0.68],[-8.40,-0.58],[-8.22,-0.68],[-8.04,-0.65],[-7.86,-0.55],[-7.68,-0.68],[-7.50,-0.58],[-7.32,-0.68],[-7.14,-0.56],[-8.31,-0.61],[-7.95,-0.59],[-7.59,-0.65],
[-8.65,-0.73],[-8.55,-0.79],[-8.46,-0.71],[-8.37,-0.77],[-8.28,-0.82],[-8.19,-0.72],[-8.10,-0.78],[-8.01,-0.70],[-7.92,-0.76],[-7.83,-0.81],[-7.74,-0.73],[-7.65,-0.79],[-7.56,-0.70],[-7.47,-0.76],[-7.38,-0.82],[-7.29,-0.72],[-7.20,-0.78],[-7.11,-0.74],[-8.50,-0.83],[-8.32,-0.73],[-8.14,-0.83],[-7.96,-0.80],[-7.78,-0.70],[-7.60,-0.83],[-7.42,-0.73],[-7.24,-0.83],
[-8.55,-0.88],[-8.44,-0.94],[-8.33,-0.87],[-8.22,-0.92],[-8.11,-0.97],[-8.00,-0.88],[-7.89,-0.93],[-7.78,-0.86],[-7.67,-0.91],[-7.56,-0.96],[-7.45,-0.88],[-7.34,-0.94],[-7.23,-0.90],[-8.38,-0.98],[-8.16,-0.86],[-7.94,-0.99],[-7.72,-0.97],[-7.50,-0.99],[-7.28,-0.97],
[-8.65,-0.22],[-8.47,-0.23],[-8.29,-0.21],[-8.11,-0.22],[-7.93,-0.19],[-7.75,-0.22],[-7.57,-0.24],[-7.39,-0.22],[-7.21,-0.22],[-7.05,-0.17],
[-8.68,-0.34],[-8.50,-0.38],[-8.32,-0.31],[-8.14,-0.38],[-7.96,-0.37],[-7.78,-0.33],[-7.60,-0.37],[-7.42,-0.31],[-7.24,-0.38],[-7.06,-0.31],
[-8.70,-0.48],[-8.52,-0.45],[-8.34,-0.54],[-8.16,-0.46],[-7.98,-0.53],[-7.80,-0.48],[-7.62,-0.45],[-7.44,-0.50],[-7.26,-0.45],[-7.08,-0.49],
[-8.67,-0.61],[-8.49,-0.66],[-8.31,-0.56],[-8.13,-0.67],[-7.95,-0.65],[-7.77,-0.60],[-7.59,-0.58],[-7.41,-0.62],[-7.23,-0.66],[-7.05,-0.62],
[-8.60,-0.75],[-8.42,-0.80],[-8.24,-0.76],[-8.06,-0.82],[-7.88,-0.72],[-7.70,-0.76],[-7.52,-0.80],[-7.34,-0.77],[-7.16,-0.80],
[-8.48,-0.91],[-8.28,-0.88],[-8.06,-0.92],[-7.84,-0.95],[-7.62,-0.88],[-7.40,-0.91],[-7.18,-0.93],
[-8.42,-0.28],[-8.22,-0.33],[-8.03,-0.29],[-7.85,-0.28],[-7.66,-0.31],[-7.48,-0.27],[-7.30,-0.31],
[-8.45,-0.41],[-8.27,-0.38],[-8.08,-0.43],[-7.91,-0.47],[-7.73,-0.43],[-7.55,-0.40],[-7.37,-0.38],
[-8.41,-0.57],[-8.20,-0.58],[-8.02,-0.56],[-7.84,-0.64],[-7.66,-0.60],[-7.48,-0.63],[-7.30,-0.58],
[-8.38,-0.71],[-8.18,-0.78],[-7.99,-0.75],[-7.81,-0.75],[-7.62,-0.72],[-7.45,-0.80],[-7.27,-0.75],
[-8.30,-0.92],[-8.08,-0.88],[-7.88,-0.90],[-7.70,-0.86],[-7.52,-0.89]];

const leftDots = leftDotsOuter.concat(leftDotsCore);
const rightDots = rightDotsOuter.concat(rightDotsUpperLobe, rightDotsLowerLobe);

const FONT = '"Liberation Sans", Arial, Helvetica, sans-serif';
const toXY = arr => arr.map(p => ({x: p[0], y: p[1]}));
const fmt = v => (v < 0 ? '\u2212' + Math.abs(v) : String(v));

const framePlugin = {
  id: 'frame',
  beforeDatasetsDraw(chart) {
    const {ctx, chartArea: a, scales: {x, y}} = chart;
    ctx.save();
    ctx.strokeStyle = '#7a7a7a';
    ctx.lineWidth = 1;
    ctx.setLineDash([9, 5]);
    const px = Math.round(x.getPixelForValue(refX)) + 0.5;
    const py = Math.round(y.getPixelForValue(refY)) + 0.5;
    ctx.beginPath();
    ctx.moveTo(a.left, py); ctx.lineTo(a.right, py);
    ctx.moveTo(px, a.bottom); ctx.lineTo(px, a.top);
    ctx.stroke();
    ctx.restore();
  },
  afterDraw(chart, args, opts) {
    const {ctx, chartArea: a, scales: {x, y}} = chart;
    ctx.save();
    ctx.strokeStyle = '#000';
    ctx.lineWidth = 1;
    ctx.setLineDash([]);
    const L = Math.round(a.left) + 0.5, R = Math.round(a.right) - 0.5;
    const T = Math.round(a.top) + 0.5, B = Math.round(a.bottom) - 0.5;
    ctx.strokeRect(L, T, R - L, B - T);
    ctx.beginPath();
    const step = 0.2;
    for (let k = Math.ceil(x.min / step - 1e-6); k <= Math.floor(x.max / step + 1e-6); k++) {
      const v = k * step;
      const major = xTicks.some(t => Math.abs(t - v) < 1e-6);
      const len = major ? 7 : 4;
      const p = Math.round(x.getPixelForValue(v)) + 0.5;
      ctx.moveTo(p, B); ctx.lineTo(p, B - len);
      ctx.moveTo(p, T); ctx.lineTo(p, T + len);
    }
    for (let k = Math.ceil(y.min / step - 1e-6); k <= Math.floor(y.max / step + 1e-6); k++) {
      const v = k * step;
      const major = yTicks.some(t => Math.abs(t - v) < 1e-6);
      const len = major ? 7 : 4;
      const p = Math.round(y.getPixelForValue(v)) + 0.5;
      ctx.moveTo(L, p); ctx.lineTo(L + len, p);
      ctx.moveTo(R, p); ctx.lineTo(R - len, p);
    }
    ctx.stroke();

    ctx.fillStyle = '#000';
    ctx.textBaseline = 'alphabetic';
    ctx.textAlign = 'left';
    const drawTitle = (letter, cx, base) => {
      ctx.font = '13px ' + FONT; const w1 = ctx.measureText(letter).width;
      ctx.font = '11px ' + FONT; const w2 = ctx.measureText('Gal').width;
      ctx.font = '13px ' + FONT; const w3 = ctx.measureText('(kpc)').width;
      let xx = cx - (w1 + w2 + w3) / 2;
      ctx.font = '13px ' + FONT; ctx.fillText(letter, xx, base); xx += w1;
      ctx.font = '11px ' + FONT; ctx.fillText('Gal', xx, base + 3); xx += w2;
      ctx.font = '13px ' + FONT; ctx.fillText('(kpc)', xx, base);
    };
    drawTitle('x', (a.left + a.right) / 2, 283);
    ctx.save();
    ctx.translate(12.5, (a.top + a.bottom) / 2 + 2);
    ctx.rotate(-Math.PI / 2);
    drawTitle(opts.yLetter, 0, 0);
    ctx.restore();
    ctx.restore();
  }
};

function makeChart(id, dots, crosses, squares, yLetter, yAxisWidth, rightPad) {
  return new Chart(document.getElementById(id), {
    type: 'scatter',
    data: {
      datasets: [
        {label: 'squares', data: toXY(squares), order: 0, pointStyle: 'rect', pointRadius: 5,
         backgroundColor: '#fff', borderColor: '#333', borderWidth: 1.2},
        {label: 'dots', data: toXY(dots), order: 1, pointStyle: 'rect', pointRadius: 2,
         backgroundColor: '#000', borderColor: '#000', borderWidth: 0},
        {label: 'crosses', data: toXY(crosses), order: 2, pointStyle: 'crossRot', pointRadius: 5,
         backgroundColor: '#999', borderColor: '#9a9a9a', borderWidth: 1}
      ]
    },
    options: {
      responsive: false,
      animation: false,
      devicePixelRatio: 1,
      events: [],
      layout: {padding: {top: 3, right: rightPad, left: 0, bottom: 0}},
      plugins: {legend: {display: false}, tooltip: {enabled: false}, frame: {yLetter}},
      scales: {
        x: {
          type: 'linear', position: 'bottom', min: xRange[0], max: xRange[1],
          grid: {display: false, drawTicks: false}, border: {display: false},
          afterBuildTicks: s => { s.ticks = xTicks.map(v => ({value: v})); },
          afterFit: s => { s.height = 41; },
          ticks: {padding: 3, color: '#000', font: {family: FONT, size: 15}, maxRotation: 0, callback: v => fmt(v)}
        },
        y: {
          type: 'linear', position: 'left', min: yRange[0], max: yRange[1],
          grid: {display: false, drawTicks: false}, border: {display: false},
          afterBuildTicks: s => { s.ticks = yTicks.map(v => ({value: v})); },
          afterFit: s => { s.width = yAxisWidth; },
          ticks: {padding: 7, color: '#000', font: {family: FONT, size: 15}, callback: v => fmt(v)}
        }
      }
    },
    plugins: [framePlugin]
  });
}

makeChart('c1', leftDots, leftCrosses, leftSquares, 'y', 44, 11);
makeChart('c2', rightDots, rightCrosses, rightSquares, 'z', 53, 2);
</script>
</body></html>
